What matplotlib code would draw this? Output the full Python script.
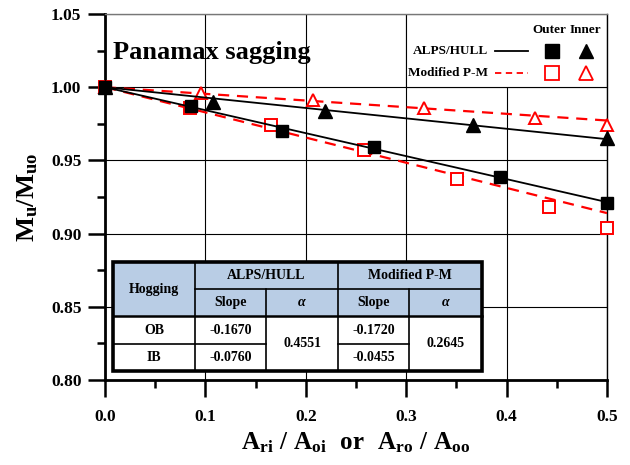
import matplotlib
matplotlib.use('Agg')
import numpy as np
import matplotlib.pyplot as plt
from matplotlib.patches import Rectangle
from matplotlib.ticker import MultipleLocator, FormatStrFormatter

plt.rcParams['font.family'] = ['Liberation Serif', 'DejaVu Serif']
plt.rcParams['font.weight'] = 'bold'
plt.rcParams['mathtext.fontset'] = 'custom'
plt.rcParams['mathtext.rm'] = 'Liberation Serif:bold'
plt.rcParams['mathtext.it'] = 'Liberation Serif:bold'
plt.rcParams['mathtext.bf'] = 'Liberation Serif:bold'

# ALPS/HULL results
alps_outer_x = [0.0, 0.086, 0.176, 0.268, 0.393, 0.500]
alps_outer_y = [1.000, 0.987, 0.970, 0.959, 0.939, 0.921]
alps_inner_x = [0.0, 0.108, 0.219, 0.367, 0.500]
alps_inner_y = [1.000, 0.990, 0.984, 0.974, 0.965]

# Modified P-M results
pm_outer_x = [0.0, 0.085, 0.165, 0.258, 0.351, 0.442, 0.500]
pm_outer_y = [1.000, 0.986, 0.974, 0.957, 0.937, 0.918, 0.904]
pm_inner_x = [0.0, 0.096, 0.207, 0.318, 0.428, 0.500]
pm_inner_y = [1.000, 0.996, 0.991, 0.986, 0.979, 0.974]

# linear trends, all starting from 1.0 at zero reduction
alps_slope_outer = -0.157
alps_slope_inner = -0.071
pm_slope_outer = -0.172
pm_slope_inner = -0.0455

# hogging summary table
tbl_groups = ['ALPS/HULL', 'Modified P-M']
tbl_sub = ['Slope', 'α', 'Slope', 'α']
tbl_rows = ['OB', 'IB']
alps_slope_vals = ['-0.1670', '-0.0760']
alps_alpha = '0.4551'
pm_slope_vals = ['-0.1720', '-0.0455']
pm_alpha = '0.2645'

RED = '#ff0000'

fig = plt.figure(figsize=(6.3, 4.65), dpi=100)
ax = fig.add_axes([0.1667, 0.1828, 0.7968, 0.7871])

xfit = np.array([0.0, 0.5])

# Modified P-M (red, dashed, open markers)
ax.plot(xfit, 1 + pm_slope_outer * xfit, color=RED, lw=1.6, ls=(0, (5, 3.5)), zorder=3)
ax.plot(xfit, 1 + pm_slope_inner * xfit, color=RED, lw=1.6, ls=(0, (5, 3.5)), zorder=3)
ax.plot(pm_outer_x, pm_outer_y, ls='none', marker='s', ms=8, mfc='white', mec=RED,
        mew=1.4, clip_on=False, zorder=4)
ax.plot(pm_inner_x, pm_inner_y, ls='none', marker='^', ms=9, mfc='white', mec=RED,
        mew=1.4, clip_on=False, zorder=4)

# ALPS/HULL (black, solid, filled markers)
ax.plot(xfit, 1 + alps_slope_outer * xfit, color='black', lw=1.3, zorder=5)
ax.plot(xfit, 1 + alps_slope_inner * xfit, color='black', lw=1.3, zorder=5)
ax.plot(alps_outer_x, alps_outer_y, ls='none', marker='s', ms=8.5, color='black',
        clip_on=False, zorder=6)
ax.plot(alps_inner_x, alps_inner_y, ls='none', marker='^', ms=10, color='black',
        clip_on=False, zorder=6)

ax.set_xlim(0, 0.5)
ax.set_ylim(0.80, 1.05)
ax.xaxis.set_major_locator(MultipleLocator(0.1))
ax.xaxis.set_minor_locator(MultipleLocator(0.05))
ax.yaxis.set_major_locator(MultipleLocator(0.05))
ax.yaxis.set_minor_locator(MultipleLocator(0.025))
ax.xaxis.set_major_formatter(FormatStrFormatter('%.1f'))
ax.yaxis.set_major_formatter(FormatStrFormatter('%.2f'))
ax.grid(True, which='major', color='black', lw=0.8)

ax.tick_params(which='major', direction='out', length=12, width=1.8, labelsize=12.5)
ax.tick_params(axis='x', which='major', pad=9)
ax.tick_params(axis='y', which='major', pad=5)
ax.tick_params(which='minor', direction='out', length=6, width=1.8)
for lab in ax.get_xticklabels() + ax.get_yticklabels():
    lab.set_fontweight('bold')

for side in ['left', 'bottom']:
    ax.spines[side].set_linewidth(2)
ax.spines['top'].set_linewidth(1)
ax.spines['top'].set_color('#777777')
ax.spines['right'].set_linewidth(1)

ax.set_ylabel(r'$\mathrm{M_u/M_{uo}}$', fontsize=19, labelpad=8)
ax.set_xlabel(r'$\mathrm{A_{ri}\ /\ A_{oi}\ \ or\ \ A_{ro}\ /\ A_{oo}}$', fontsize=18, labelpad=4)

ax.text(0.016, 0.895, 'Panamax sagging', transform=ax.transAxes, fontsize=19,
        fontweight='bold', ha='left', va='center')

# legend panel in the upper right grid cell
ax.add_patch(Rectangle((0.3, 1.0), 0.2, 0.05, facecolor='white', edgecolor='black',
                       lw=0.8, zorder=2.5))
T = ax.transAxes
ax.text(0.886, 0.956, 'Outer', transform=T, fontsize=9.5, fontweight='bold',
        ha='center', va='center', zorder=7)
ax.text(0.958, 0.956, 'Inner', transform=T, fontsize=9.5, fontweight='bold',
        ha='center', va='center', zorder=7)
ax.text(0.763, 0.899, 'ALPS/HULL', transform=T, fontsize=9.5, fontweight='bold',
        ha='right', va='center', zorder=7)
ax.text(0.763, 0.839, 'Modified P-M', transform=T, fontsize=9.5, fontweight='bold',
        ha='right', va='center', zorder=7)
ax.plot([0.777, 0.843], [0.899, 0.899], transform=T, color='black', lw=1.3, zorder=7)
ax.plot([0.777, 0.843], [0.839, 0.839], transform=T, color=RED, lw=1.3,
        ls=(0, (3.5, 2.5)), zorder=7)
ax.plot([0.890], [0.899], transform=T, marker='s', ms=9.5, color='black', zorder=7)
ax.plot([0.958], [0.899], transform=T, marker='^', ms=10.5, color='black', zorder=7)
ax.plot([0.890], [0.839], transform=T, marker='s', ms=9.5, mfc='white', mec=RED,
        mew=1.3, zorder=7)
ax.plot([0.958], [0.839], transform=T, marker='^', ms=10.5, mfc='white', mec=RED,
        mew=1.3, zorder=7)

# hogging slope table
cx = [0.016, 0.179, 0.321, 0.464, 0.606, 0.751]
ry = [0.322, 0.249, 0.175, 0.098, 0.025]
HEAD = '#b9cde5'
ax.add_patch(Rectangle((cx[0], ry[2]), cx[5] - cx[0], ry[0] - ry[2], transform=T,
                       facecolor=HEAD, edgecolor='none', zorder=8))
ax.add_patch(Rectangle((cx[0], ry[4]), cx[5] - cx[0], ry[2] - ry[4], transform=T,
                       facecolor='white', edgecolor='none', zorder=8))


def seg(x0, x1, y0, y1, lw=1.2):
    ax.plot([x0, x1], [y0, y1], transform=T, color='black', lw=lw, zorder=9,
            solid_capstyle='projecting')


seg(cx[1], cx[1], ry[0], ry[4])
seg(cx[3], cx[3], ry[0], ry[4])
seg(cx[2], cx[2], ry[1], ry[4])
seg(cx[4], cx[4], ry[1], ry[4])
seg(cx[1], cx[5], ry[1], ry[1])
seg(cx[0], cx[5], ry[2], ry[2], lw=1.8)
seg(cx[0], cx[2], ry[3], ry[3])
seg(cx[3], cx[4], ry[3], ry[3])
ax.add_patch(Rectangle((cx[0], ry[4]), cx[5] - cx[0], ry[0] - ry[4], transform=T,
                       facecolor='none', edgecolor='black', lw=2.6, zorder=10))


def cell(x0, x1, y0, y1, s, **kw):
    ax.text((x0 + x1) / 2, (y0 + y1) / 2, s, transform=T, fontsize=10,
            fontweight='bold', ha='center', va='center', zorder=11, **kw)


cell(cx[0], cx[1], ry[0], ry[2], 'Hogging')
cell(cx[1], cx[3], ry[0], ry[1], tbl_groups[0])
cell(cx[3], cx[5], ry[0], ry[1], tbl_groups[1])
for i, s in enumerate(tbl_sub):
    if s == 'α':
        cell(cx[i + 1], cx[i + 2], ry[1], ry[2], s, fontstyle='italic')
    else:
        cell(cx[i + 1], cx[i + 2], ry[1], ry[2], s)
for i, r in enumerate(tbl_rows):
    cell(cx[0], cx[1], ry[2 + i], ry[3 + i], r)
    cell(cx[1], cx[2], ry[2 + i], ry[3 + i], alps_slope_vals[i])
    cell(cx[3], cx[4], ry[2 + i], ry[3 + i], pm_slope_vals[i])
cell(cx[2], cx[3], ry[2], ry[4], alps_alpha)
cell(cx[4], cx[5], ry[2], ry[4], pm_alpha)

fig.savefig('out.png', dpi=100)
